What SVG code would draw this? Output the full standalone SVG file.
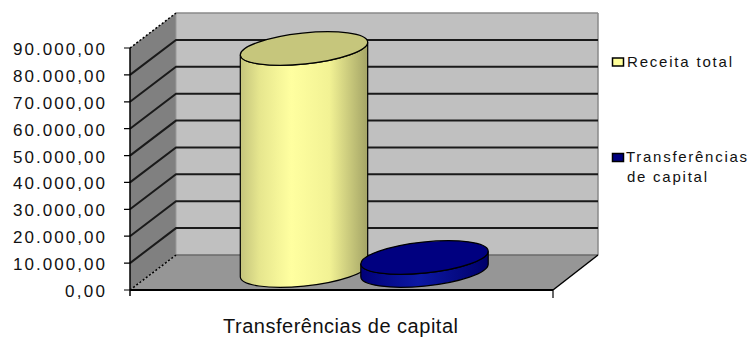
<svg xmlns="http://www.w3.org/2000/svg" width="753" height="338" viewBox="0 0 753 338">
<style>
text{font-family:"Liberation Sans",Arial,sans-serif;fill:#111}
.ylab{font-size:17px;text-anchor:end}
.leg{font-size:15px}
.grid{stroke:#1a1a1a;stroke-width:2;fill:none}
.tick{stroke:#000;stroke-width:1.2}
.dot{stroke:#000;stroke-width:1.5;stroke-dasharray:2 2;fill:none}
.cyl{stroke:#000;stroke-width:1.2}
</style>
<defs>
<linearGradient id="yel" x1="0" y1="0" x2="1" y2="0">
<stop offset="0" stop-color="#c4c47c"/>
<stop offset="0.15" stop-color="#e6e68e"/>
<stop offset="0.4" stop-color="#ffffa0"/>
<stop offset="0.7" stop-color="#f2f294"/>
<stop offset="1" stop-color="#a4a466"/>
</linearGradient>
<linearGradient id="blu" x1="0" y1="0" x2="1" y2="0">
<stop offset="0" stop-color="#000078"/>
<stop offset="0.45" stop-color="#0c18a4"/>
<stop offset="1" stop-color="#00006a"/>
</linearGradient>
</defs>
<g id="chart-walls">
<polygon points="130,48 176,13 176,255 130,290" fill="#808080"/>
<rect x="176" y="13" width="422" height="242" fill="#c0c0c0"/>
<polygon points="130,290 176,255 598,255 553,290" fill="#969696"/>
<line x1="176" y1="13" x2="598" y2="13" stroke="#8a8a8a" stroke-width="1.5"/>
<line x1="598" y1="13" x2="598" y2="255" stroke="#8a8a8a" stroke-width="1.5"/>
<line x1="176" y1="13" x2="176" y2="255" stroke="#9a9a9a" stroke-width="1"/>
<line x1="176" y1="255" x2="598" y2="255" stroke="#6a6a6a" stroke-width="1.5"/>
</g>
<g id="gridlines">
<path class="grid" d="M130,74.9 L176,39.9 H598 M130,101.8 L176,66.8 H598 M130,128.7 L176,93.7 H598 M130,155.6 L176,120.6 H598 M130,182.4 L176,147.4 H598 M130,209.3 L176,174.3 H598 M130,236.2 L176,201.2 H598 M130,263.1 L176,228.1 H598"/>
<line class="dot" x1="130" y1="48" x2="176" y2="13"/>
<line class="dot" x1="130" y1="290" x2="176" y2="255"/>
</g>
<g id="axes">
<line x1="130" y1="48" x2="130" y2="296" stroke="#000" stroke-width="1.5"/>
<line x1="130" y1="290" x2="553" y2="290" stroke="#000" stroke-width="2"/>
<line x1="553" y1="290" x2="598" y2="255" stroke="#000" stroke-width="1.5"/>
<line x1="553" y1="290" x2="553" y2="298" stroke="#000" stroke-width="1.2"/>
<path class="tick" d="M124,48 H130 M124,74.9 H130 M124,101.8 H130 M124,128.7 H130 M124,155.6 H130 M124,182.4 H130 M124,209.3 H130 M124,236.2 H130 M124,263.1 H130 M124,290 H130"/>
</g>
<g id="y-labels">
<text class="ylab" x="105" y="55" textLength="92" lengthAdjust="spacing">90.000,00</text>
<text class="ylab" x="105" y="81.9" textLength="92" lengthAdjust="spacing">80.000,00</text>
<text class="ylab" x="105" y="108.8" textLength="92" lengthAdjust="spacing">70.000,00</text>
<text class="ylab" x="105" y="135.7" textLength="92" lengthAdjust="spacing">60.000,00</text>
<text class="ylab" x="105" y="162.6" textLength="92" lengthAdjust="spacing">50.000,00</text>
<text class="ylab" x="105" y="189.4" textLength="92" lengthAdjust="spacing">40.000,00</text>
<text class="ylab" x="105" y="216.3" textLength="92" lengthAdjust="spacing">30.000,00</text>
<text class="ylab" x="105" y="243.2" textLength="92" lengthAdjust="spacing">20.000,00</text>
<text class="ylab" x="105" y="270.1" textLength="92" lengthAdjust="spacing">10.000,00</text>
<text class="ylab" x="105" y="297" textLength="40" lengthAdjust="spacing">0,00</text>
</g>
<g id="bar-receita-total">
<path class="cyl" fill="url(#yel)" d="M240.3,54.8 L240.3,276.8 A64 15.5 -6 0 0 367.7,264.2 L367.7,42.2 A64 15.5 -6 0 1 240.3,54.8 Z"/>
<ellipse class="cyl" cx="304" cy="48.5" rx="64" ry="15.5" transform="rotate(-6 304 48.5)" fill="#c6c67c"/>
</g>
<g id="bar-transferencias">
<path class="cyl" fill="url(#blu)" d="M360.8,263.8 L360.8,276.8 A64 15.5 -6 0 0 488.2,264.2 L488.2,251.2 A64 15.5 -6 0 1 360.8,263.8 Z"/>
<ellipse class="cyl" cx="424.5" cy="257.5" rx="64" ry="15.5" transform="rotate(-6 424.5 257.5)" fill="#000080"/>
</g>
<g id="x-label">
<text x="223" y="333" font-size="20" textLength="235" lengthAdjust="spacing">Transferências de capital</text>
</g>
<g id="legend">
<rect x="612.5" y="58" width="11" height="8" fill="#ffff99" stroke="#000" stroke-width="1.5"/>
<text class="leg" x="627" y="67" textLength="105" lengthAdjust="spacing">Receita total</text>
<rect x="612.5" y="153.5" width="11" height="8" fill="#000080" stroke="#000" stroke-width="1.5"/>
<text class="leg" x="626" y="162" textLength="121" lengthAdjust="spacing">Transferências</text>
<text class="leg" x="627" y="182" textLength="80" lengthAdjust="spacing">de capital</text>
</g>
</svg>
